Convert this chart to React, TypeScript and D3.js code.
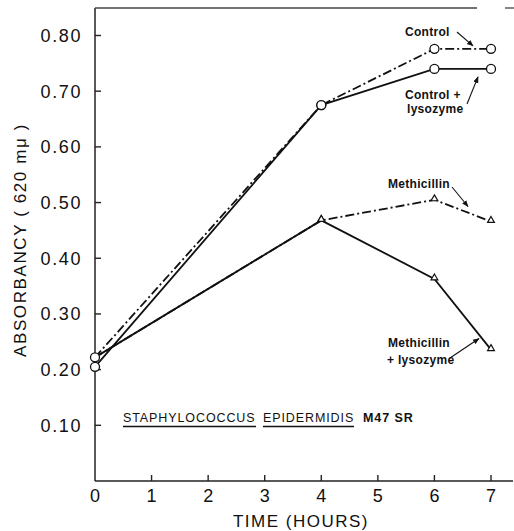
import React, { useEffect, useRef } from 'react';
import * as d3 from 'd3';

// time in hours
const hours = [0, 4, 6, 7];
const controlVals = [0.222, 0.675, 0.776, 0.776];
const controlLysoVals = [0.205, 0.675, 0.74, 0.74];
const methVals = [0.222, 0.468, 0.505, 0.466];
const methLysoVals = [0.222, 0.468, 0.363, 0.236];

const xTicks = [0, 1, 2, 3, 4, 5, 6, 7];
const yTicks = [0.1, 0.2, 0.3, 0.4, 0.5, 0.6, 0.7, 0.8];

const series = [
  { name: 'Control', values: controlVals, marker: 'circle', dashed: true },
  { name: 'Control + lysozyme', values: controlLysoVals, marker: 'circle', dashed: false },
  { name: 'Methicillin', values: methVals, marker: 'triangle', dashed: true },
  { name: 'Methicillin + lysozyme', values: methLysoVals, marker: 'triangle', dashed: false },
];

const App = () => {
  const svgRef = useRef<SVGSVGElement>(null);
  const width = 514;
  const height = 531;
  const font = '"Liberation Sans", Arial, sans-serif';

  useEffect(() => {
    const svg = d3.select(svgRef.current)
      .attr('width', width)
      .attr('height', height)
      .style('background', '#fff');
    svg.selectAll('*').remove();

    const x = d3.scaleLinear().domain([0, 7]).range([95, 491]);
    const y = d3.scaleLinear().domain([0, 0.8]).range([481, 35.5]);

    // frame lines
    svg.append('line').attr('x1', 95).attr('x2', 95).attr('y1', 8).attr('y2', y(0))
      .attr('stroke', '#222').attr('stroke-width', 1.5);
    svg.append('line').attr('x1', 95).attr('x2', 513).attr('y1', y(0)).attr('y2', y(0))
      .attr('stroke', '#222').attr('stroke-width', 1.5);
    svg.append('line').attr('x1', 95).attr('x2', 477).attr('y1', 8).attr('y2', 8)
      .attr('stroke', '#444').attr('stroke-width', 1.3);
    svg.append('line').attr('x1', 505).attr('x2', 514).attr('y1', 8).attr('y2', 8)
      .attr('stroke', '#444').attr('stroke-width', 1.3);

    // y ticks
    const yg = svg.append('g');
    yg.selectAll('line').data(yTicks).enter().append('line')
      .attr('x1', 95).attr('x2', 101)
      .attr('y1', d => y(d)).attr('y2', d => y(d))
      .attr('stroke', '#222').attr('stroke-width', 1.4);
    yg.selectAll('text').data(yTicks).enter().append('text')
      .attr('x', 82).attr('y', d => y(d) + 6.5)
      .attr('text-anchor', 'end')
      .style('font-family', font).style('font-size', '18px').style('letter-spacing', '1.6px')
      .attr('fill', '#111')
      .text(d => d3.format('.2f')(d));

    // x ticks
    const xg = svg.append('g');
    xg.selectAll('line').data(xTicks.filter(d => d > 0)).enter().append('line')
      .attr('x1', d => x(d)).attr('x2', d => x(d))
      .attr('y1', y(0)).attr('y2', y(0) - 6)
      .attr('stroke', '#222').attr('stroke-width', 1.4);
    xg.selectAll('text').data(xTicks).enter().append('text')
      .attr('x', d => x(d)).attr('y', 502)
      .attr('text-anchor', 'middle')
      .style('font-family', font).style('font-size', '18px')
      .attr('fill', '#111')
      .text(d => String(d));

    // axis titles
    svg.append('text')
      .attr('x', 301).attr('y', 527)
      .attr('text-anchor', 'middle')
      .style('font-family', font).style('font-size', '17px').style('letter-spacing', '1.5px')
      .attr('fill', '#111')
      .text('TIME (HOURS)');
    svg.append('text')
      .attr('transform', `translate(26,${240}) rotate(-90)`)
      .attr('text-anchor', 'middle')
      .style('font-family', font).style('font-size', '17px').style('letter-spacing', '1.6px')
      .attr('fill', '#111')
      .text('ABSORBANCY ( 620 mμ )');

    // lines
    const line = d3.line<number>()
      .x((_, i) => x(hours[i]))
      .y(d => y(d));

    series.forEach(s => {
      svg.append('path')
        .datum(s.values)
        .attr('fill', 'none')
        .attr('stroke', '#111')
        .attr('stroke-width', 1.8)
        .attr('stroke-dasharray', s.dashed ? '9,3,2,3' : null)
        .attr('d', line);
    });

    // markers
    series.forEach(s => {
      const g = svg.append('g');
      if (s.marker === 'circle') {
        g.selectAll('circle').data(s.values).enter().append('circle')
          .attr('cx', (_, i) => x(hours[i]))
          .attr('cy', d => y(d))
          .attr('r', 4.5)
          .attr('fill', '#fff').attr('stroke', '#111').attr('stroke-width', 1.3);
      } else {
        const tri = d3.symbol().type(d3.symbolTriangle).size(20);
        g.selectAll('path').data(s.values.slice(1)).enter().append('path')
          .attr('transform', (d, i) => `translate(${x(hours[i + 1])},${y(d) - 1})`)
          .attr('d', tri)
          .attr('fill', '#fff').attr('stroke', '#111').attr('stroke-width', 1.2);
      }
    });

    // annotations
    const annoFont = (sel: any) => sel
      .style('font-family', font).style('font-size', '12px').style('font-weight', 'bold')
      .style('letter-spacing', '0.3px').attr('fill', '#111');

    annoFont(svg.append('text').attr('x', 405).attr('y', 36).text('Control'));
    annoFont(svg.append('text').attr('x', 405).attr('y', 99).text('Control +'));
    annoFont(svg.append('text').attr('x', 407).attr('y', 113).text('lysozyme'));
    annoFont(svg.append('text').attr('x', 388).attr('y', 188).text('Methicillin'));
    annoFont(svg.append('text').attr('x', 388).attr('y', 347).text('Methicillin'));
    annoFont(svg.append('text').attr('x', 387).attr('y', 364).text('+ lysozyme'));

    const defs = svg.append('defs');
    defs.append('marker')
      .attr('id', 'arrow')
      .attr('viewBox', '0 0 10 10')
      .attr('refX', 9).attr('refY', 5)
      .attr('markerWidth', 6).attr('markerHeight', 6)
      .attr('orient', 'auto')
      .append('path').attr('d', 'M0,1 L10,5 L0,9 Z').attr('fill', '#111');

    const arrows = [
      [457, 32, x(7) - 18, y(controlVals[3]) - 3],
      [467, 104, x(7) - 13, y(controlLysoVals[3]) + 8],
      [452, 187, x(7) - 23, y(methVals[3]) - 15],
      [450, 358, x(7) - 12, y(methLysoVals[3]) - 11],
    ];
    arrows.forEach(([x1, y1, x2, y2]) => {
      svg.append('line')
        .attr('x1', x1).attr('y1', y1).attr('x2', x2).attr('y2', y2)
        .attr('stroke', '#111').attr('stroke-width', 1.1)
        .attr('marker-end', 'url(#arrow)');
    });

    // organism label
    const org = svg.append('g')
      .style('font-family', font).style('font-size', '12.5px').style('letter-spacing', '0.9px')
      .attr('fill', '#111');
    org.append('text').attr('x', 123).attr('y', 422).text('STAPHYLOCOCCUS');
    org.append('text').attr('x', 263).attr('y', 422).text('EPIDERMIDIS');
    org.append('text').attr('x', 363).attr('y', 422).style('font-weight', 'bold').text('M47 SR');
    org.append('line').attr('x1', 123).attr('x2', 256).attr('y1', 426.5).attr('y2', 426.5)
      .attr('stroke', '#111').attr('stroke-width', 1.4);
    org.append('line').attr('x1', 263).attr('x2', 354).attr('y1', 426.5).attr('y2', 426.5)
      .attr('stroke', '#111').attr('stroke-width', 1.4);
  }, []);

  return <svg ref={svgRef} style={{ position: 'absolute', left: 0, top: 0 }}></svg>;
};

export default App;
